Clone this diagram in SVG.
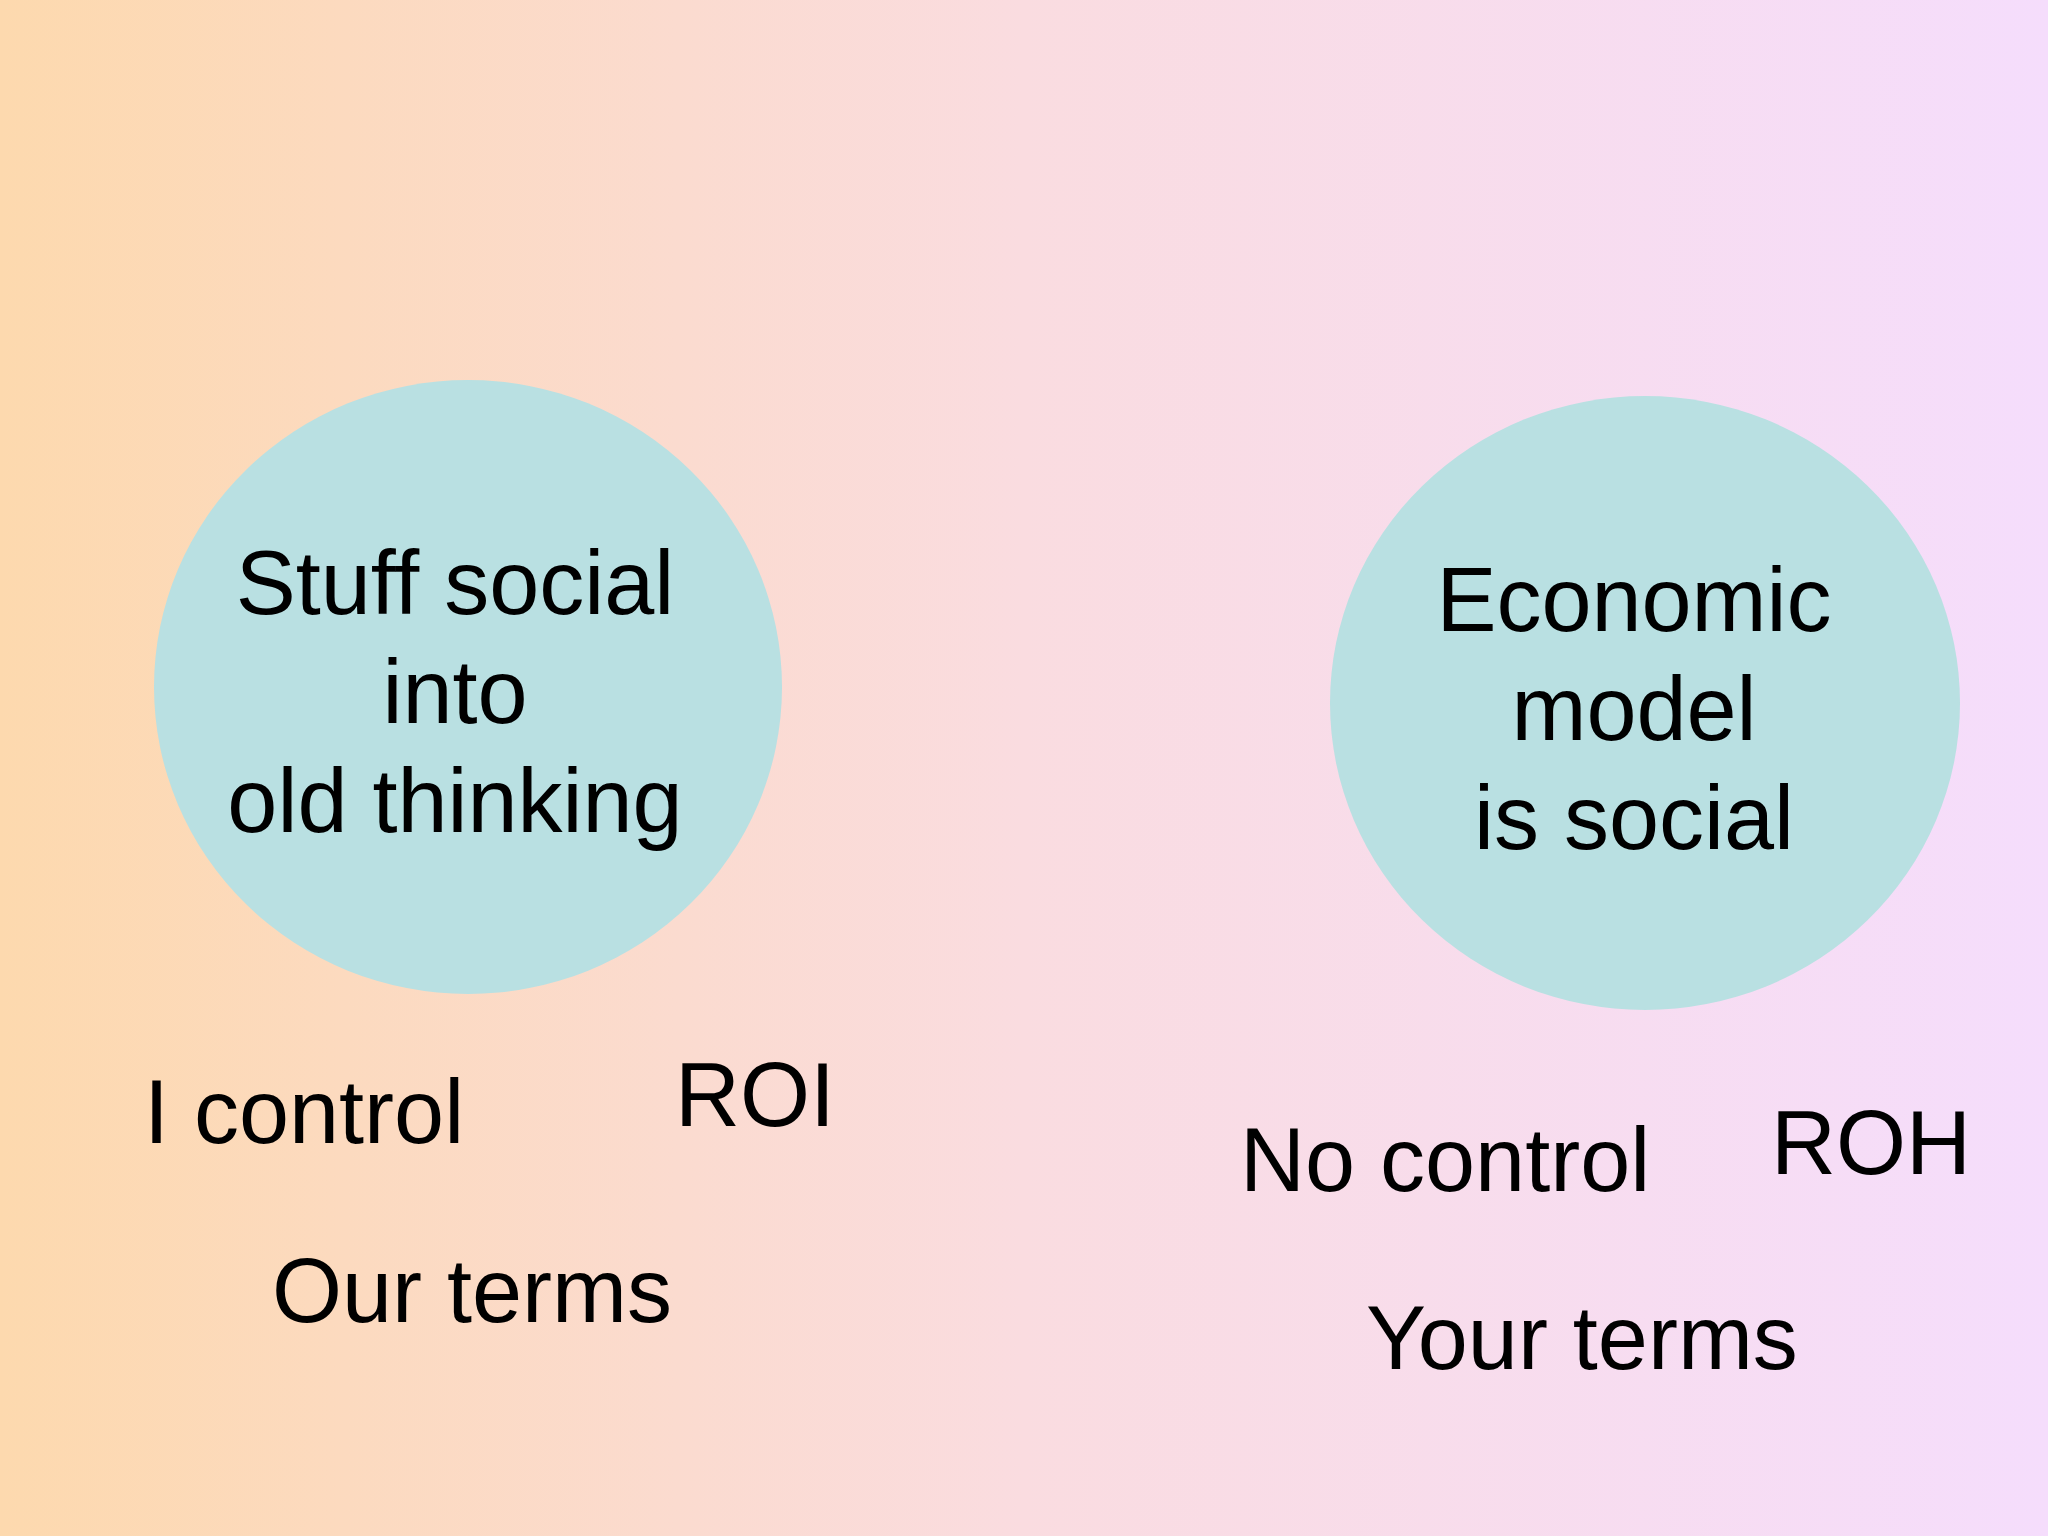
<svg xmlns="http://www.w3.org/2000/svg" width="2048" height="1536" viewBox="0 0 2048 1536">
<defs>
<linearGradient id="bg" x1="0" y1="0" x2="1" y2="0">
<stop offset="0" stop-color="#FDD9AE"/>
<stop offset="0.5" stop-color="#FADCE0"/>
<stop offset="1" stop-color="#F5DDFC"/>
</linearGradient>
<style>
.c{fill:#B9E0E2}
.t{font-family:"Liberation Sans",Arial,sans-serif;font-size:90px;fill:#000}
.m{text-anchor:middle}
</style>
</defs>
<rect width="2048" height="1536" fill="url(#bg)"/>
<g id="left-node">
<ellipse class="c" cx="468" cy="687" rx="314" ry="307"/>
<text class="t m" x="455" y="614">Stuff social</text>
<text class="t m" x="455" y="723">into</text>
<text class="t m" x="455" y="832">old thinking</text>
</g>
<g id="right-node">
<ellipse class="c" cx="1645" cy="703" rx="315" ry="307"/>
<text class="t m" x="1634" y="631">Economic</text>
<text class="t m" x="1634" y="740">model</text>
<text class="t m" x="1634" y="849">is social</text>
</g>
<g id="labels">
<text class="t" x="144" y="1143">I control</text>
<text class="t" x="675" y="1126">ROI</text>
<text class="t" x="272" y="1322">Our terms</text>
<text class="t" x="1240" y="1191">No control</text>
<text class="t" x="1771" y="1174">ROH</text>
<text class="t" x="1366" y="1369">Your terms</text>
</g>
<g id="connectors"></g>
</svg>
